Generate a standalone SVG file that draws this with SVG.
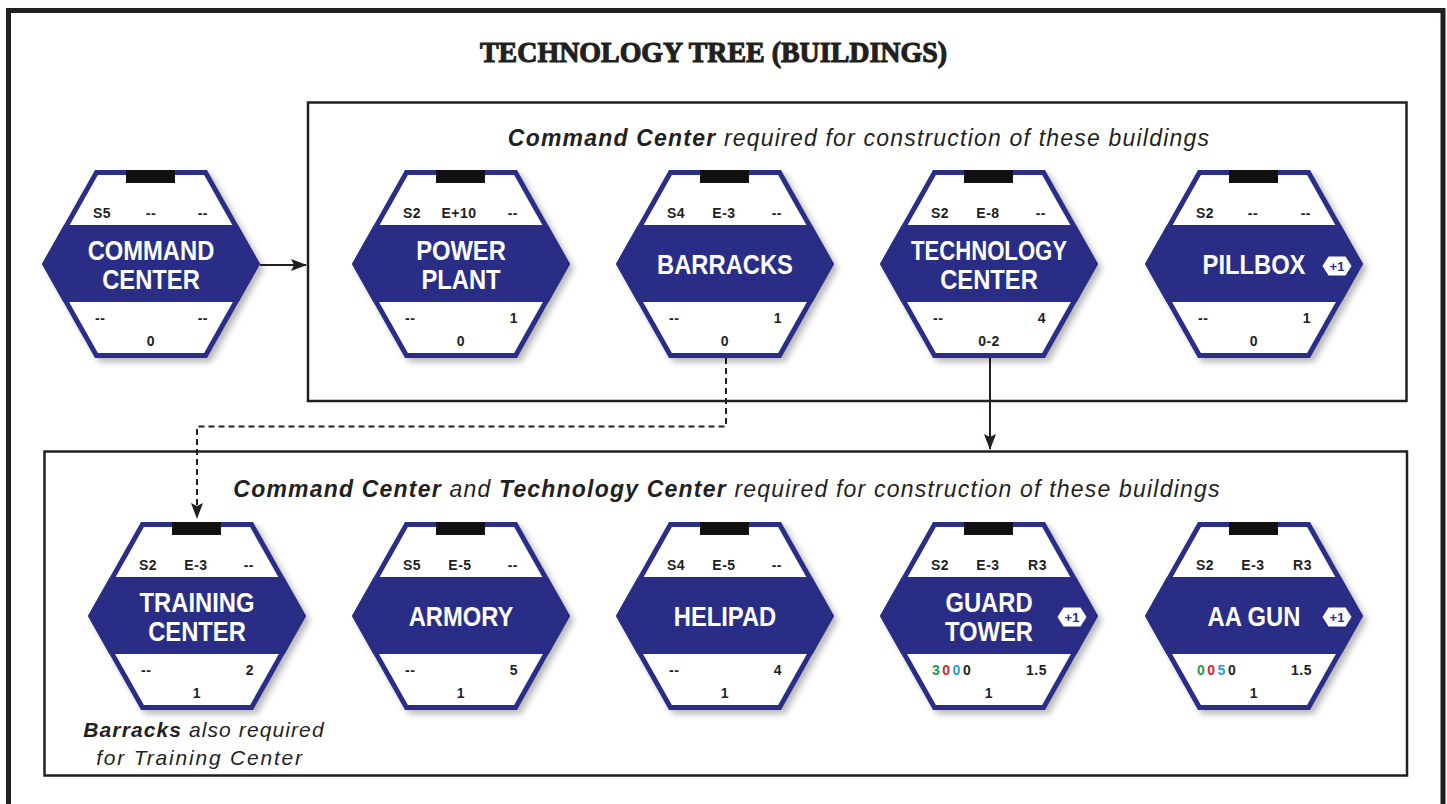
<svg xmlns="http://www.w3.org/2000/svg" width="1447" height="804" viewBox="0 0 1447 804">
  <style>
    .frame { fill: none; stroke: #231f20; }
    .title { font-family: "Liberation Serif", "DejaVu Serif", serif; font-weight: bold; font-size: 29px; fill: #231f20; stroke: #231f20; stroke-width: 1.1px; }
    .sub { font-family: "Liberation Sans", Arial, sans-serif; font-style: italic; font-size: 23px; fill: #231f20; letter-spacing: 1.2px; text-anchor: middle; }
    .note { font-family: "Liberation Sans", Arial, sans-serif; font-style: italic; font-size: 21px; fill: #231f20; letter-spacing: 1.1px; text-anchor: middle; }
    .b { font-weight: bold; }
    .lbl { font-family: "Liberation Sans", Arial, sans-serif; font-weight: bold; font-size: 27px; fill: #ffffff; text-anchor: middle; }
    .st { font-family: "Liberation Sans", Arial, sans-serif; font-weight: bold; font-size: 14px; fill: #231f20; letter-spacing: 0.5px; }
    .l { text-anchor: start; }
    .m { text-anchor: middle; }
    .r { text-anchor: end; }
    .num { letter-spacing: 2.5px; }
    .g { fill: #1d9a48; }
    .rd { fill: #e2232b; }
    .bl { fill: #1fa0dc; }
    .badge-t { font-family: "Liberation Sans", Arial, sans-serif; font-weight: bold; font-size: 13px; fill: #2a2d86; text-anchor: middle; }
    .wire { fill: none; stroke: #231f20; stroke-width: 2; }
    .dash { stroke-dasharray: 6 4; }
  </style>
  <defs>
    <filter id="shadow" x="-10%" y="-10%" width="130%" height="130%">
      <feDropShadow dx="4" dy="4" stdDeviation="3" flood-color="#000" flood-opacity="0.28"/>
    </filter>
    <!-- building hexagon: blue rim, white stat panels, blue name band, black tab -->
    <g id="hex">
      <polygon points="-109,0 -56,-94 56,-94 109,0 56,94 -56,94" fill="#2a2d86" filter="url(#shadow)"/>
      <polygon points="-103.3,0 -53.1,-89 53.1,-89 103.3,0 53.1,89 -53.1,89" fill="#ffffff"/>
      <polygon points="-87,-39 87,-39 109,0 87.6,38 -87.6,38 -109,0" fill="#2a2d86"/>
      <rect x="-25" y="-94" width="49" height="13" fill="#111111"/>
    </g>
    <g id="badge">
      <polygon points="-14.5,0 -8.5,-9.5 8.5,-9.5 14.5,0 8.5,9.5 -8.5,9.5" fill="#ffffff"/>
    </g>
    <marker id="arrow" viewBox="0 0 16 12" refX="15" refY="6" markerWidth="16" markerHeight="12" markerUnits="userSpaceOnUse" orient="auto">
      <path d="M0,0 L16,6 L0,12 L3,6 z" fill="#231f20"/>
    </marker>
  </defs>

  <rect width="1447" height="804" fill="#ffffff"/>

  <!-- page frame and group boxes -->
  <rect class="frame" x="8.5" y="10.5" width="1434.5" height="820" stroke-width="5"/>
  <rect class="frame" x="308" y="102.5" width="1098.5" height="298.5" stroke-width="2.5"/>
  <rect class="frame" x="44.5" y="451.5" width="1362.5" height="324" stroke-width="2.5"/>

  <text class="title" x="480" y="62" textLength="467" lengthAdjust="spacingAndGlyphs">TECHNOLOGY TREE (BUILDINGS)</text>

  <text class="sub" x="859" y="146"><tspan class="b">Command Center</tspan> required for construction of these buildings</text>
  <text class="sub" x="727" y="497"><tspan class="b">Command Center</tspan> and <tspan class="b">Technology Center</tspan> required for construction of these buildings</text>
  <text class="note" x="204" y="737"><tspan class="b">Barracks</tspan> also required</text>
  <text class="note" x="200" y="765" style="letter-spacing:1.8px">for Training Center</text>

  <!-- connectors -->
  <g id="connectors">
    <line class="wire" x1="260" y1="265" x2="306" y2="265" marker-end="url(#arrow)"/>
    <polyline class="wire dash" points="726,358 726,426.5 197,426.5 197,518" marker-end="url(#arrow)"/>
    <line class="wire" x1="990" y1="358" x2="990" y2="449" marker-end="url(#arrow)"/>
  </g>

  <!-- top row -->
  <g id="command-center">
    <use href="#hex" x="151" y="264"/>
    <text class="st l" x="93" y="218">S5</text>
    <text class="st m" x="151" y="218">--</text>
    <text class="st r" x="208" y="218">--</text>
    <text class="lbl" transform="matrix(0.88 0 0 1 151 0)" x="0" y="260">COMMAND</text>
    <text class="lbl" transform="matrix(0.88 0 0 1 151 0)" x="0" y="289">CENTER</text>
    <text class="st l" x="95" y="323">--</text>
    <text class="st r" x="208" y="323">--</text>
    <text class="st m" x="151" y="346">0</text>
  </g>

  <g id="power-plant">
    <use href="#hex" x="461" y="264"/>
    <text class="st l" x="403" y="218">S2</text>
    <text class="st m" x="459" y="218">E+10</text>
    <text class="st r" x="518" y="218">--</text>
    <text class="lbl" transform="matrix(0.88 0 0 1 461 0)" x="0" y="260">POWER</text>
    <text class="lbl" transform="matrix(0.88 0 0 1 461 0)" x="0" y="289">PLANT</text>
    <text class="st l" x="405" y="323">--</text>
    <text class="st r" x="518" y="323">1</text>
    <text class="st m" x="461" y="346">0</text>
  </g>

  <g id="barracks">
    <use href="#hex" x="725" y="264"/>
    <text class="st l" x="667" y="218">S4</text>
    <text class="st m" x="724" y="218">E-3</text>
    <text class="st r" x="782" y="218">--</text>
    <text class="lbl" transform="matrix(0.88 0 0 1 725 0)" x="0" y="274">BARRACKS</text>
    <text class="st l" x="669" y="323">--</text>
    <text class="st r" x="782" y="323">1</text>
    <text class="st m" x="725" y="346">0</text>
  </g>

  <g id="technology-center">
    <use href="#hex" x="989" y="264"/>
    <text class="st l" x="931" y="218">S2</text>
    <text class="st m" x="988" y="218">E-8</text>
    <text class="st r" x="1046" y="218">--</text>
    <text class="lbl" transform="matrix(0.82 0 0 1 989 0)" x="0" y="260">TECHNOLOGY</text>
    <text class="lbl" transform="matrix(0.88 0 0 1 989 0)" x="0" y="289">CENTER</text>
    <text class="st l" x="933" y="323">--</text>
    <text class="st r" x="1046" y="323">4</text>
    <text class="st m" x="989" y="346">0-2</text>
  </g>

  <g id="pillbox">
    <use href="#hex" x="1254" y="264"/>
    <text class="st l" x="1196" y="218">S2</text>
    <text class="st m" x="1253" y="218">--</text>
    <text class="st r" x="1311" y="218">--</text>
    <text class="lbl" transform="matrix(0.88 0 0 1 1254 0)" x="0" y="274">PILLBOX</text>
    <use href="#badge" x="1337" y="266"/>
    <text class="badge-t" x="1337" y="270.5">+1</text>
    <text class="st l" x="1198" y="323">--</text>
    <text class="st r" x="1311" y="323">1</text>
    <text class="st m" x="1254" y="346">0</text>
  </g>

  <!-- bottom row -->
  <g id="training-center">
    <use href="#hex" x="197" y="616"/>
    <text class="st l" x="139" y="570">S2</text>
    <text class="st m" x="196" y="570">E-3</text>
    <text class="st r" x="254" y="570">--</text>
    <text class="lbl" transform="matrix(0.88 0 0 1 197 0)" x="0" y="612">TRAINING</text>
    <text class="lbl" transform="matrix(0.88 0 0 1 197 0)" x="0" y="641">CENTER</text>
    <text class="st l" x="141" y="675">--</text>
    <text class="st r" x="254" y="675">2</text>
    <text class="st m" x="197" y="698">1</text>
  </g>

  <g id="armory">
    <use href="#hex" x="461" y="616"/>
    <text class="st l" x="403" y="570">S5</text>
    <text class="st m" x="460" y="570">E-5</text>
    <text class="st r" x="518" y="570">--</text>
    <text class="lbl" transform="matrix(0.88 0 0 1 461 0)" x="0" y="626">ARMORY</text>
    <text class="st l" x="405" y="675">--</text>
    <text class="st r" x="518" y="675">5</text>
    <text class="st m" x="461" y="698">1</text>
  </g>

  <g id="helipad">
    <use href="#hex" x="725" y="616"/>
    <text class="st l" x="667" y="570">S4</text>
    <text class="st m" x="724" y="570">E-5</text>
    <text class="st r" x="782" y="570">--</text>
    <text class="lbl" transform="matrix(0.88 0 0 1 725 0)" x="0" y="626">HELIPAD</text>
    <text class="st l" x="669" y="675">--</text>
    <text class="st r" x="782" y="675">4</text>
    <text class="st m" x="725" y="698">1</text>
  </g>

  <g id="guard-tower">
    <use href="#hex" x="989" y="616"/>
    <text class="st l" x="931" y="570">S2</text>
    <text class="st m" x="988" y="570">E-3</text>
    <text class="st r" x="1047" y="570">R3</text>
    <text class="lbl" transform="matrix(0.88 0 0 1 989 0)" x="0" y="612">GUARD</text>
    <text class="lbl" transform="matrix(0.88 0 0 1 989 0)" x="0" y="641">TOWER</text>
    <use href="#badge" x="1072" y="617"/>
    <text class="badge-t" x="1072" y="621.5">+1</text>
    <text class="st l num" x="932" y="675"><tspan class="g">3</tspan><tspan class="rd">0</tspan><tspan class="bl">0</tspan><tspan>0</tspan></text>
    <text class="st r" x="1047" y="675">1.5</text>
    <text class="st m" x="989" y="698">1</text>
  </g>

  <g id="aa-gun">
    <use href="#hex" x="1254" y="616"/>
    <text class="st l" x="1196" y="570">S2</text>
    <text class="st m" x="1253" y="570">E-3</text>
    <text class="st r" x="1312" y="570">R3</text>
    <text class="lbl" transform="matrix(0.88 0 0 1 1254 0)" x="0" y="626">AA GUN</text>
    <use href="#badge" x="1337" y="617"/>
    <text class="badge-t" x="1337" y="621.5">+1</text>
    <text class="st l num" x="1197" y="675"><tspan class="g">0</tspan><tspan class="rd">0</tspan><tspan class="bl">5</tspan><tspan>0</tspan></text>
    <text class="st r" x="1312" y="675">1.5</text>
    <text class="st m" x="1254" y="698">1</text>
  </g>
</svg>
